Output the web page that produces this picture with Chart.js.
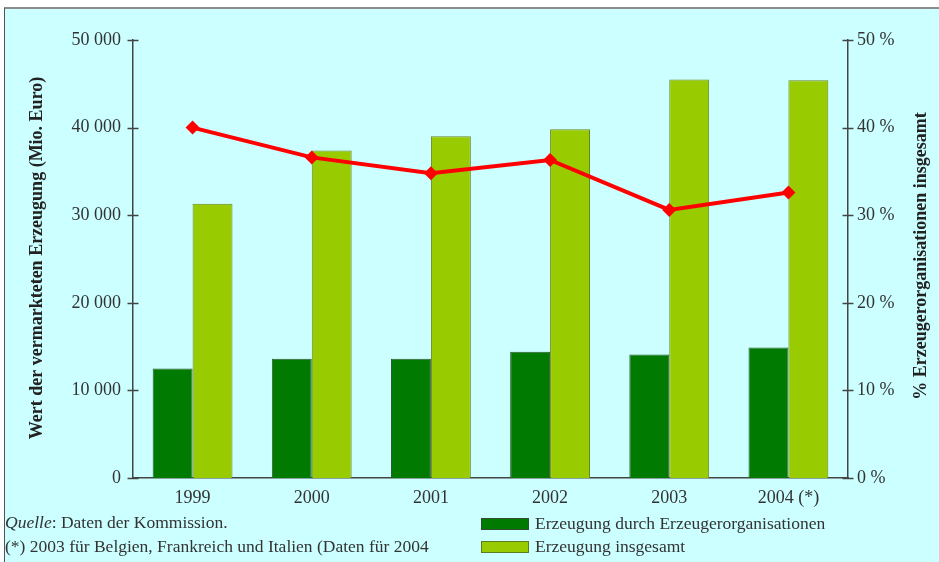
<!DOCTYPE html>
<html>
<head>
<meta charset="utf-8">
<script src="https://cdn.jsdelivr.net/npm/chart.js@4"></script>
<style>
  html, body { margin:0; padding:0; background:#fff; width:939px; height:562px; overflow:hidden; }
  #bg { position:absolute; left:4px; top:7px; width:935px; height:555px; background:#ccffff;
        border-top:2px solid #8c8c8c; border-left:1px solid #555; box-sizing:border-box; }
  #c { position:absolute; left:0; top:0; }
  .t { position:absolute; font-family:'Liberation Serif', serif; font-size:17.5px; color:#333; white-space:nowrap; line-height:20px; }
  .sw { position:absolute; width:48px; height:12px; box-sizing:border-box; }
</style>
</head>
<body>
<div id="bg"></div>
<canvas id="c" width="939" height="562"></canvas>
<div class="t" style="left:5px; top:512px;"><i>Quelle</i>: Daten der Kommission.</div>
<div class="t" style="left:5px; top:536px;">(*) 2003 für Belgien, Frankreich und Italien (Daten für 2004</div>
<div class="sw" style="left:481px; top:518px; background:#007a00; border:1px solid #2f4f2f;"></div>
<div class="t" style="left:535px; top:513px;">Erzeugung durch Erzeugerorganisationen</div>
<div class="sw" style="left:481px; top:541px; background:#99cc00; border:1px solid #5f7a20;"></div>
<div class="t" style="left:535px; top:536px;">Erzeugung insgesamt</div>
<script>
const categories = ['1999', '2000', '2001', '2002', '2003', '2004 (*)'];
const erzeugungEO = [12500, 13600, 13600, 14400, 14100, 14900];
const erzeugungGesamt = [31300, 37400, 39000, 39800, 45500, 45400];
const anteilProzent = [40.0, 36.6, 34.8, 36.3, 30.6, 32.6];
const seriesNames = ['Erzeugung durch Erzeugerorganisationen', 'Erzeugung insgesamt', '% Erzeugerorganisationen insgesamt'];
const leftTitle = 'Wert der vermarkteten Erzeugung (Mio. Euro)';
const rightTitle = '% Erzeugerorganisationen insgesamt';

const FONT = "'Liberation Serif', serif";
const AXIS = '#444';

const crossTicks = {
  id: 'crossTicks',
  afterDraw(chart) {
    const ctx = chart.ctx;
    ctx.save();
    ctx.strokeStyle = AXIS;
    ctx.lineWidth = 1.5;
    ['y', 'y1'].forEach(id => {
      const s = chart.scales[id];
      const x = id === 'y' ? s.right : s.left;
      s.ticks.forEach(t => {
        const py = Math.round(s.getPixelForValue(t.value)) + 0.5;
        ctx.beginPath();
        ctx.moveTo(x - 5.5, py);
        ctx.lineTo(x + 5.5, py);
        ctx.stroke();
      });
    });
    ctx.fillStyle = '#222';
    ctx.font = 'bold 18px ' + FONT;
    ctx.textAlign = 'center';
    ctx.textBaseline = 'middle';
    ctx.save();
    ctx.translate(37, 258);
    ctx.rotate(-Math.PI / 2);
    ctx.fillText(leftTitle, 0, 0);
    ctx.restore();
    ctx.save();
    ctx.translate(921, 256);
    ctx.rotate(-Math.PI / 2);
    ctx.fillText(rightTitle, 0, 0);
    ctx.restore();
    ctx.restore();
  }
};

new Chart(document.getElementById('c'), {
  data: {
    labels: categories,
    datasets: [
      { type: 'line', label: seriesNames[2], data: anteilProzent, yAxisID: 'y1', order: 0,
        borderColor: '#ff0000', backgroundColor: '#ff0000', borderWidth: 4, tension: 0,
        pointStyle: 'rectRot', pointRadius: 7, pointHoverRadius: 7,
        pointBackgroundColor: '#ff0000', pointBorderColor: '#ff0000', pointBorderWidth: 0 },
      { type: 'bar', label: seriesNames[0], data: erzeugungEO, yAxisID: 'y', order: 1,
        backgroundColor: '#007a00', borderColor: '#2f5a2f', borderWidth: 1,
        categoryPercentage: 0.67, barPercentage: 1.0 },
      { type: 'bar', label: seriesNames[1], data: erzeugungGesamt, yAxisID: 'y', order: 1,
        backgroundColor: '#99cc00', borderColor: '#6a8425', borderWidth: 1,
        categoryPercentage: 0.67, barPercentage: 1.0 }
    ]
  },
  options: {
    responsive: false,
    animation: false,
    devicePixelRatio: 1,
    layout: { padding: { top: 40, left: 0, right: 0, bottom: 0 } },
    plugins: { legend: { display: false }, tooltip: { enabled: false } },
    scales: {
      x: {
        offset: true,
        grid: { display: false, drawTicks: false },
        border: { display: true, color: AXIS, width: 1.5 },
        ticks: { color: '#333', font: { family: FONT, size: 18 }, padding: 9, maxRotation: 0 },
        afterFit(s) { s.height = 84; }
      },
      y: {
        position: 'left', min: 0, max: 50000,
        grid: { display: false, drawTicks: false },
        border: { display: true, color: AXIS, width: 1.5 },
        ticks: { stepSize: 10000, color: '#333', font: { family: FONT, size: 18 }, padding: 12,
                 callback: v => v === 0 ? '0' : (v / 1000) + ' 000' },
        afterFit(s) { s.width = 133; }
      },
      y1: {
        position: 'right', min: 0, max: 50,
        grid: { display: false, drawTicks: false },
        border: { display: true, color: AXIS, width: 1.5 },
        ticks: { stepSize: 10, color: '#333', font: { family: FONT, size: 18 }, padding: 9,
                 callback: v => v + ' %' },
        afterFit(s) { s.width = 91; }
      }
    }
  },
  plugins: [crossTicks]
});
</script>
</body>
</html>
